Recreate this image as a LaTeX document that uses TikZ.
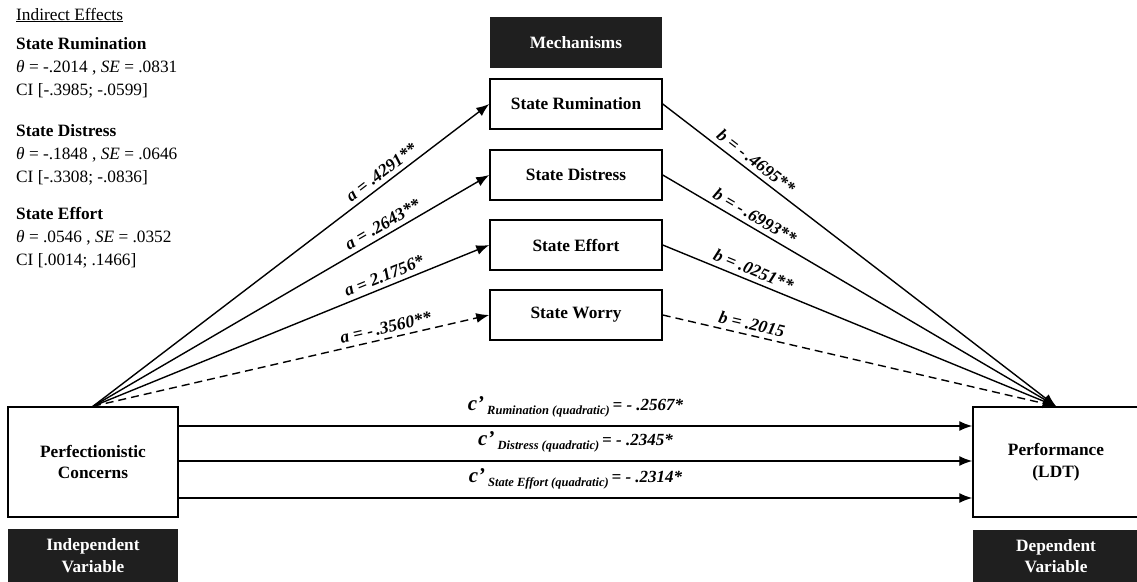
\documentclass[tikz,border=0pt]{standalone}
\usepackage{fontspec}
\setmainfont{Liberation Serif}
\usetikzlibrary{arrows.meta}
\newcommand\mainfs{\fontsize{17.3}{21.5}\selectfont}
\newcommand\labfs{\fontsize{17.5}{20}\selectfont}
\newcommand\cprm[2]{{\fontsize{21}{21}\selectfont c’}\raisebox{-4pt}{\fontsize{12.5}{12.5}\selectfont\ #1}{\fontsize{17}{17}\selectfont\,= - #2}}
\begin{document}
\begin{tikzpicture}[x=1pt,y=-1pt,
  box/.style={draw, line width=1.5pt, fill=white, inner sep=0pt, align=center, font=\mainfs\bfseries},
  dark/.style={fill=black!88, text=white, inner sep=0pt, align=center, font=\mainfs\bfseries},
  arr/.style={line width=1.4pt, -{Latex[length=13pt,width=10pt]}},
  dsh/.style={dash pattern=on 8pt off 5pt},
  alab/.style={font=\labfs\bfseries\itshape, inner sep=1.5pt, sloped, above=3pt, pos=0.745},
  blab/.style={font=\labfs\bfseries\itshape, inner sep=1.5pt, sloped, above=3pt, pos=0.22},
  clab/.style={font=\labfs\bfseries\itshape, inner sep=1.5pt, midway, yshift=19pt},
  txt/.style={anchor=base west, inner sep=0pt, font=\mainfs},
  txtb/.style={txt, font=\mainfs\bfseries}
]
\fill[white] (0,0) rectangle (1137,581);
\useasboundingbox (0,0) rectangle (1137,581);

% left text
\node[txt] (ie) at (16,20) {\underline{Indirect Effects}};
\node[txtb] (t1) at (16,49) {State Rumination};
\node[txt] (s1) at (16,72) {\textit{θ} = -.2014 , \textit{SE} = .0831};
\node[txt] (c1) at (16,95) {CI [-.3985; -.0599]};
\node[txtb] (t2) at (16,136) {State Distress};
\node[txt] (s2) at (16,159) {\textit{θ} = -.1848 , \textit{SE} = .0646};
\node[txt] (c2) at (16,182) {CI [-.3308; -.0836]};
\node[txtb] (t3) at (16,219) {State Effort};
\node[txt] (s3) at (16,242) {\textit{θ} = .0546 , \textit{SE} = .0352};
\node[txt] (c3) at (16,265) {CI [.0014; .1466]};

% mechanism boxes
\node[dark, minimum width=172pt, minimum height=51pt] (mech) at (576,42.5) {Mechanisms};
\node[box, minimum width=172pt, minimum height=50pt] (rum) at (576,104) {State Rumination};
\node[box, minimum width=172pt, minimum height=50pt] (dis) at (576,175) {State Distress};
\node[box, minimum width=172pt, minimum height=50pt] (eff) at (576,245) {State Effort};
\node[box, minimum width=172pt, minimum height=50pt] (wor) at (576,315) {State Worry};

% IV and DV
\node[box, minimum width=170pt, minimum height=110pt] (pc) at (93,462) {Perfectionistic\\Concerns};
\node[dark, minimum width=170pt, minimum height=53pt] (iv) at (93,555.5) {Independent\\Variable};
\node[box, minimum width=166pt, minimum height=110pt] (perf) at (1056,462) {Performance\\(LDT)};
\node[dark, minimum width=166pt, minimum height=53pt] (dv) at (1056,556) {Dependent\\Variable};

% a paths
\draw[arr] (pc.north) -- node[alab] {a = .4291**} (rum.west);
\draw[arr] (pc.north) -- node[alab] {a = .2643**} (dis.west);
\draw[arr] (pc.north) -- node[alab] {a = 2.1756*} (eff.west);
\draw[arr, dsh] (pc.north) -- node[alab] {a = -\,.3560**} (wor.west);

% b paths
\draw[arr] (rum.east) -- node[blab] {b = -\,.4695**} (perf.north);
\draw[arr] (dis.east) -- node[blab] {b = -\,.6993**} (perf.north);
\draw[arr] (eff.east) -- node[blab] {b = .0251**} (perf.north);
\draw[arr, dsh] (wor.east) -- node[blab] {b = .2015} (perf.north);

% c' paths
\draw[arr] ([yshift=36pt]pc.east) -- node[clab] {\cprm{Rumination (quadratic)}{.2567*}} ([yshift=36pt]perf.west);
\draw[arr] ([yshift=1pt]pc.east) -- node[clab] {\cprm{Distress (quadratic)}{.2345*}} ([yshift=1pt]perf.west);
\draw[arr] ([yshift=-36pt]pc.east) -- node[clab] {\cprm{State Effort (quadratic)}{.2314*}} ([yshift=-36pt]perf.west);
\end{tikzpicture}
\end{document}
